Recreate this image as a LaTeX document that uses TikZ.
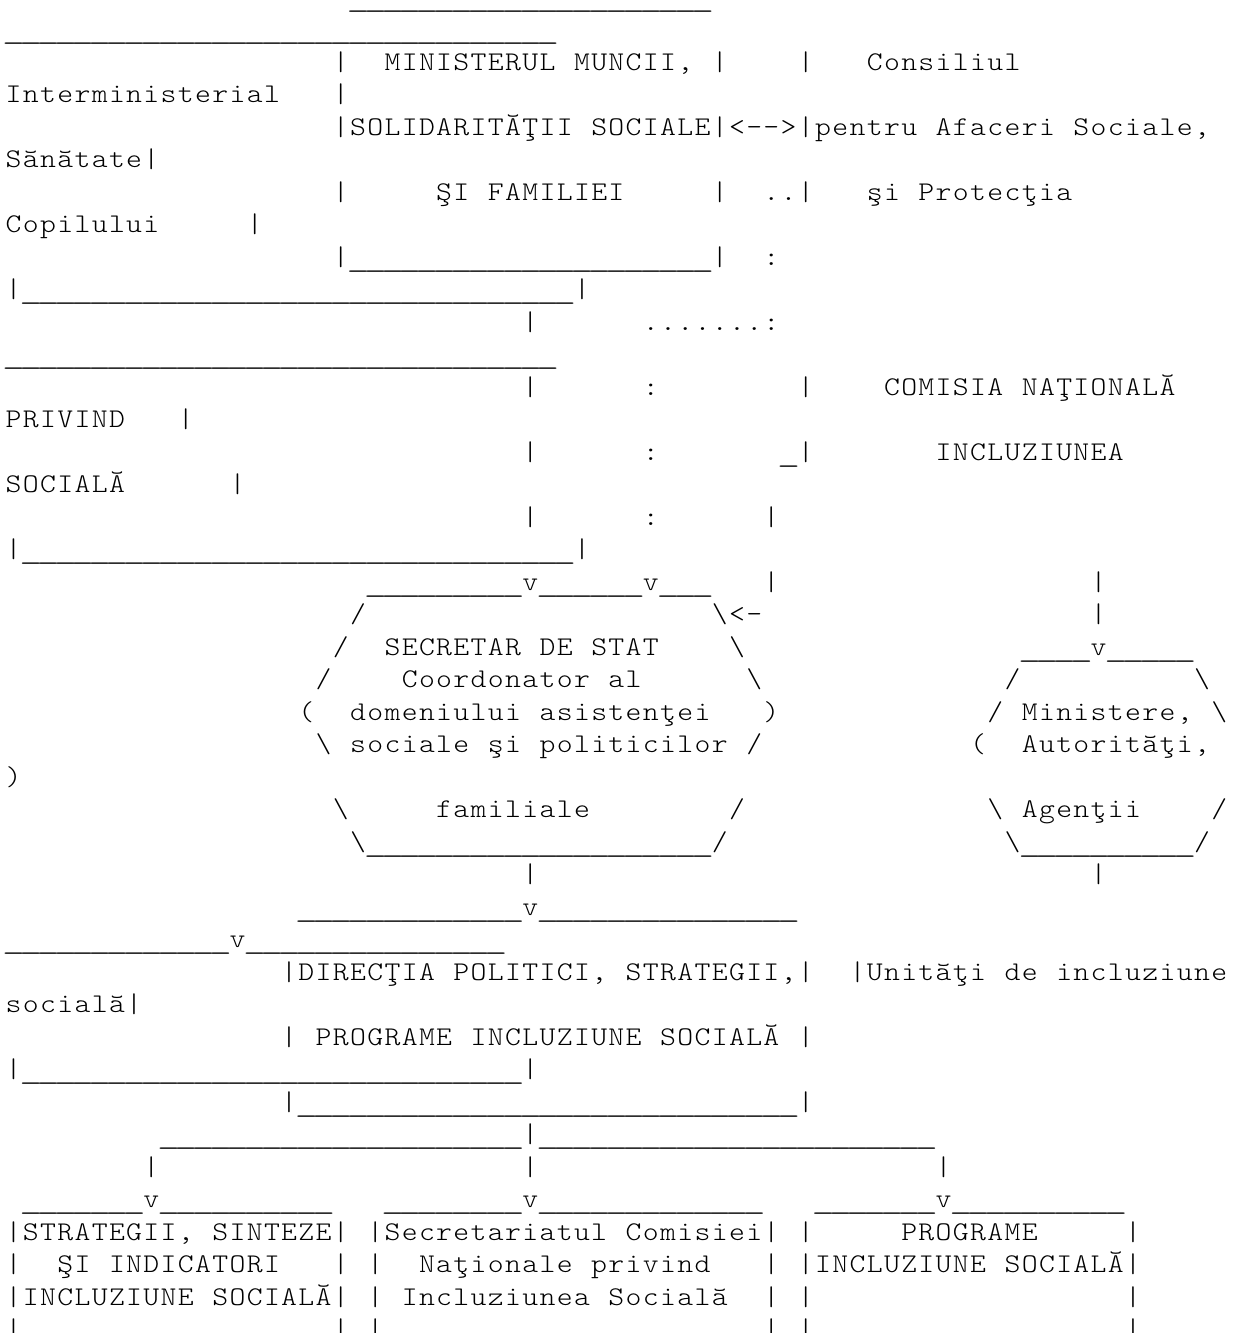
\documentclass[tikz,border=0pt]{standalone}
\usepackage{fontspec}
\usepackage{graphicx}
\setmonofont{lmmonolt10-regular.otf}
\newlength\cw
\setlength\cw{17.2228pt}
\protected\def\mySP{}
\protected\def\myUL{\raisebox{-2pt}{\scalebox{1.45}[1]{\char95}}}
\protected\def\bs{\textbackslash}
\ExplSyntaxOn
\cs_new:Npn \nS #1 {\prg_replicate:nn{#1}{\mySP}}
\cs_new:Npn \nU #1 {\prg_replicate:nn{#1}{\myUL}}
\tl_new:N \l_my_line_tl
\cs_new_protected:Npn \mstr #1 {
  \tl_set:Nx \l_my_line_tl {#1}
  \tl_map_inline:Nn \l_my_line_tl {\makebox[\cw][c]{\scalebox{1.12}[1]{##1}}}
}
\ExplSyntaxOff
\newcommand\C[1]{5+#1*17.2228}
\newcommand\R[1]{-(5+(#1-1)*32.5)}
\tikzset{t/.style={font=\ttfamily\fontsize{27}{32}\selectfont, anchor=base west, inner sep=0pt, outer sep=0pt, text=black}}
\begin{document}
\begin{tikzpicture}[x=1pt,y=1pt]
\fill[white] (0,0) rectangle (1237,-1333);
\useasboundingbox (0,0) rectangle (1237,-1333);
\node[t] (l1) at ({\C{20}},{\R{1}}) {\mstr{\nU{21}}};
\node[t] (l2) at ({\C{0}},{\R{2}}) {\mstr{\nU{32}}};
\node[t] (l3) at ({\C{19}},{\R{3}}) {\mstr{|\nS{2}MINISTERUL\nS{1}MUNCII,\nS{1}|\nS{4}|\nS{3}Consiliul}};
\node[t] (l4) at ({\C{0}},{\R{4}}) {\mstr{Interministerial\nS{3}|}};
\node[t] (l5) at ({\C{19}},{\R{5}}) {\mstr{|SOLIDARITĂŢII\nS{1}SOCIALE|<-->|pentru\nS{1}Afaceri\nS{1}Sociale,}};
\node[t] (l6) at ({\C{0}},{\R{6}}) {\mstr{Sănătate|}};
\node[t] (l7) at ({\C{19}},{\R{7}}) {\mstr{|\nS{5}ŞI\nS{1}FAMILIEI\nS{5}|\nS{2}..|\nS{3}şi\nS{1}Protecţia}};
\node[t] (l8) at ({\C{0}},{\R{8}}) {\mstr{Copilului\nS{5}|}};
\node[t] (l9) at ({\C{19}},{\R{9}}) {\mstr{|\nU{21}|\nS{2}:}};
\node[t] (l10) at ({\C{0}},{\R{10}}) {\mstr{|\nU{32}|}};
\node[t] (l11) at ({\C{30}},{\R{11}}) {\mstr{|\nS{6}.......:}};
\node[t] (l12) at ({\C{0}},{\R{12}}) {\mstr{\nU{32}}};
\node[t] (l13) at ({\C{30}},{\R{13}}) {\mstr{|\nS{6}:\nS{8}|\nS{4}COMISIA\nS{1}NAŢIONALĂ}};
\node[t] (l14) at ({\C{0}},{\R{14}}) {\mstr{PRIVIND\nS{3}|}};
\node[t] (l15) at ({\C{30}},{\R{15}}) {\mstr{|\nS{6}:\nS{7}\nU{1}|\nS{7}INCLUZIUNEA}};
\node[t] (l16) at ({\C{0}},{\R{16}}) {\mstr{SOCIALĂ\nS{6}|}};
\node[t] (l17) at ({\C{30}},{\R{17}}) {\mstr{|\nS{6}:\nS{6}|}};
\node[t] (l18) at ({\C{0}},{\R{18}}) {\mstr{|\nU{32}|}};
\node[t] (l19) at ({\C{21}},{\R{19}}) {\mstr{\nU{9}v\nU{6}v\nU{3}\nS{3}|\nS{18}|}};
\node[t] (l20) at ({\C{20}},{\R{20}}) {\mstr{/\nS{20}\bs<-\nS{19}|}};
\node[t] (l21) at ({\C{19}},{\R{21}}) {\mstr{/\nS{2}SECRETAR\nS{1}DE\nS{1}STAT\nS{4}\bs\nS{16}\nU{4}v\nU{5}}};
\node[t] (l22) at ({\C{18}},{\R{22}}) {\mstr{/\nS{4}Coordonator\nS{1}al\nS{6}\bs\nS{14}/\nS{10}\bs}};
\node[t] (l23) at ({\C{17}},{\R{23}}) {\mstr{(\nS{2}domeniului\nS{1}asistenţei\nS{3})\nS{12}/\nS{1}Ministere,\nS{1}\bs}};
\node[t] (l24) at ({\C{18}},{\R{24}}) {\mstr{\bs\nS{1}sociale\nS{1}şi\nS{1}politicilor\nS{1}/\nS{12}(\nS{2}Autorităţi,}};
\node[t] (l25) at ({\C{0}},{\R{25}}) {\mstr{)}};
\node[t] (l26) at ({\C{19}},{\R{26}}) {\mstr{\bs\nS{5}familiale\nS{8}/\nS{14}\bs\nS{1}Agenţii\nS{4}/}};
\node[t] (l27) at ({\C{20}},{\R{27}}) {\mstr{\bs\nU{20}/\nS{16}\bs\nU{10}/}};
\node[t] (l28) at ({\C{30}},{\R{28}}) {\mstr{|\nS{32}|}};
\node[t] (l29) at ({\C{17}},{\R{29}}) {\mstr{\nU{13}v\nU{15}}};
\node[t] (l30) at ({\C{0}},{\R{30}}) {\mstr{\nU{13}v\nU{15}}};
\node[t] (l31) at ({\C{16}},{\R{31}}) {\mstr{|DIRECŢIA\nS{1}POLITICI,\nS{1}STRATEGII,|\nS{2}|Unităţi\nS{1}de\nS{1}incluziune}};
\node[t] (l32) at ({\C{0}},{\R{32}}) {\mstr{socială|}};
\node[t] (l33) at ({\C{16}},{\R{33}}) {\mstr{|\nS{1}PROGRAME\nS{1}INCLUZIUNE\nS{1}SOCIALĂ\nS{1}|}};
\node[t] (l34) at ({\C{0}},{\R{34}}) {\mstr{|\nU{29}|}};
\node[t] (l35) at ({\C{16}},{\R{35}}) {\mstr{|\nU{29}|}};
\node[t] (l36) at ({\C{9}},{\R{36}}) {\mstr{\nU{21}|\nU{23}}};
\node[t] (l37) at ({\C{8}},{\R{37}}) {\mstr{|\nS{21}|\nS{23}|}};
\node[t] (l38) at ({\C{1}},{\R{38}}) {\mstr{\nU{7}v\nU{10}\nS{3}\nU{8}v\nU{13}\nS{3}\nU{7}v\nU{10}}};
\node[t] (l39) at ({\C{0}},{\R{39}}) {\mstr{|STRATEGII,\nS{1}SINTEZE|\nS{1}|Secretariatul\nS{1}Comisiei|\nS{1}|\nS{5}PROGRAME\nS{5}|}};
\node[t] (l40) at ({\C{0}},{\R{40}}) {\mstr{|\nS{2}ŞI\nS{1}INDICATORI\nS{3}|\nS{1}|\nS{2}Naţionale\nS{1}privind\nS{3}|\nS{1}|INCLUZIUNE\nS{1}SOCIALĂ|}};
\node[t] (l41) at ({\C{0}},{\R{41}}) {\mstr{|INCLUZIUNE\nS{1}SOCIALĂ|\nS{1}|\nS{1}Incluziunea\nS{1}Socială\nS{2}|\nS{1}|\nS{18}|}};
\node[t] (l42) at ({\C{0}},{\R{42}}) {\mstr{|\nS{18}|\nS{1}|\nS{22}|\nS{1}|\nS{18}|}};
\end{tikzpicture}
\end{document}
